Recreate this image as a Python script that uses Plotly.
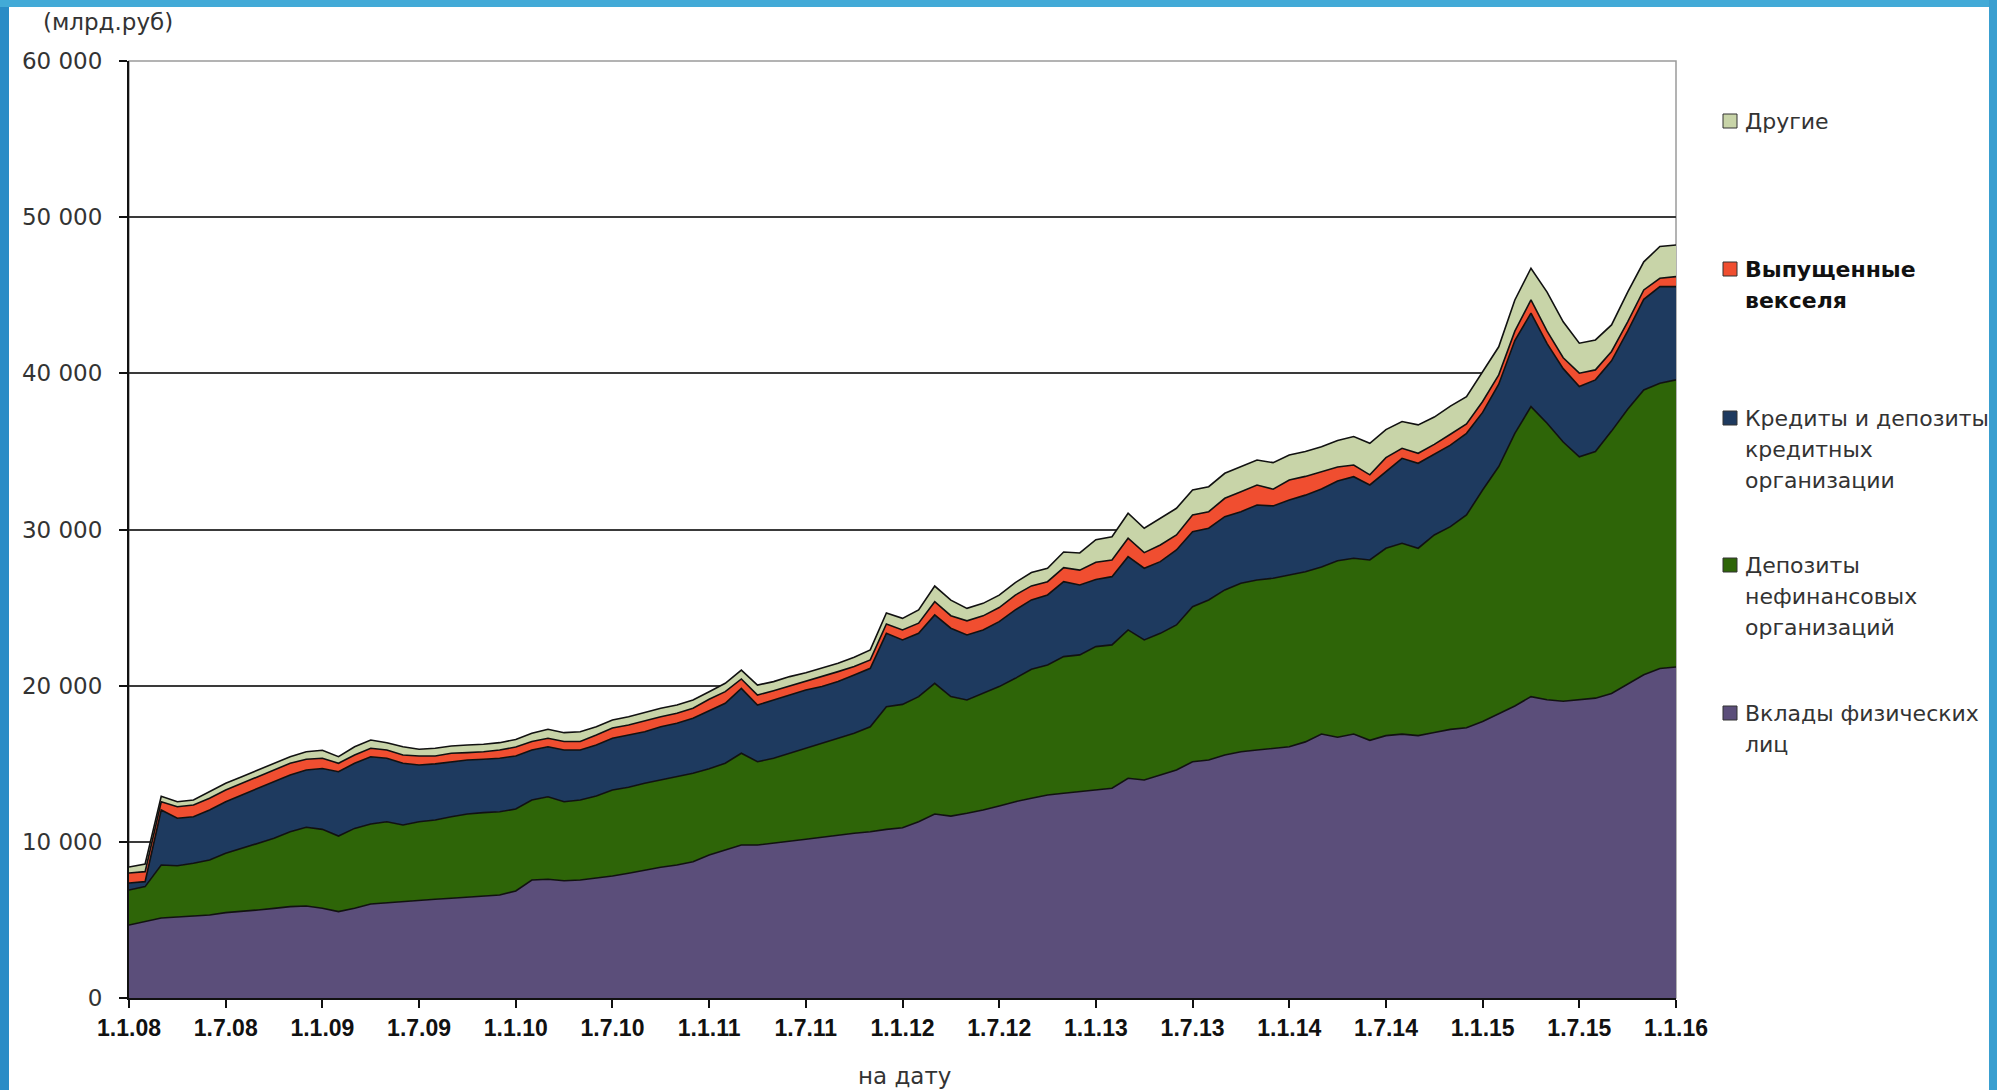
import plotly.graph_objects as go

# ---------------- data (млрд.руб), monthly 1.1.08 .. 1.1.16 ----------------
years = ["08", "09", "10", "11", "12", "13", "14", "15"]
months = [f"1.{m}.{y}" for y in years for m in range(1, 13)] + ["1.1.16"]

tick_labels = ["1.1.08", "1.7.08", "1.1.09", "1.7.09", "1.1.10", "1.7.10", "1.1.11", "1.7.11",
               "1.1.12", "1.7.12", "1.1.13", "1.7.13", "1.1.14", "1.7.14", "1.1.15", "1.7.15", "1.1.16"]

vklady = [4675, 4886, 5120, 5187, 5250, 5315, 5464, 5528, 5635, 5742, 5850, 5890,
          5750, 5530, 5742, 6020, 6100, 6170, 6276, 6320, 6384, 6450, 6530, 6600,
          6850, 7557, 7600, 7510, 7557, 7665, 7813, 7985, 8197, 8370, 8517, 8730,
          9150, 9478, 9798, 9798, 9905, 10010, 10160, 10290, 10440, 10550, 10650, 10800,
          10900, 11290, 11780, 11650, 11830, 12040, 12300, 12570, 12790, 13000, 13110, 13210,
          13300, 13430, 14070, 13960, 14280, 14600, 15130, 15240, 15560, 15770, 15880, 15990,
          16090, 16400, 16900, 16700, 16900, 16500, 16800, 16900, 16800, 17000, 17200, 17300,
          17700, 18200, 18700, 19300, 19100, 19000, 19100, 19200, 19500, 20100, 20700, 21100,
          21200]

depozity_nefin = [2241, 2244, 3400, 3286, 3375, 3522, 3800, 4057, 4270, 4483, 4800, 5040,
                  5050, 4840, 5118, 5120, 5190, 4910, 5014, 5080, 5226, 5330, 5340, 5330,
                  5250, 5123, 5290, 5060, 5123, 5275, 5507, 5505, 5553, 5590, 5653, 5660,
                  5530, 5552, 5872, 5332, 5445, 5660, 5830, 6020, 6190, 6400, 6720, 7850,
                  7900, 8010, 8370, 7650, 7250, 7470, 7640, 7900, 8260, 8330, 8750, 8760,
                  9200, 9180, 9500, 8970, 9070, 9290, 9930, 10250, 10570, 10790, 10890, 10890,
                  11000, 10900, 10700, 11300, 11260, 11550, 12000, 12220, 12000, 12650, 12980, 13630,
                  14830, 15830, 17460, 18570, 17700, 16600, 15560, 15790, 16800, 17600, 18240, 18260,
                  18380]

kredity_ko = [449, 320, 3520, 3035, 2985, 3203, 3306, 3415, 3525, 3625, 3630, 3670,
              3900, 4120, 4170, 4310, 4060, 3950, 3630, 3590, 3520, 3460, 3420, 3420,
              3400, 3200, 3200, 3310, 3200, 3260, 3310, 3350, 3300, 3410, 3420, 3520,
              3710, 3840, 4160, 3630, 3730, 3730, 3730, 3630, 3630, 3730, 3740, 4700,
              4130, 4050, 4380, 4380, 4170, 4060, 4160, 4380, 4440, 4480, 4800, 4480,
              4300, 4370, 4690, 4590, 4590, 4800, 4800, 4590, 4690, 4580, 4800, 4630,
              4800, 4900, 5000, 5100, 5220, 4800, 4900, 5440, 5440, 5150, 5220, 5230,
              4970, 5270, 5940, 5980, 5100, 4700, 4490, 4590, 4500, 5000, 5800, 6200,
              5970]

vekselya = [640, 640, 530, 742, 750, 750, 750, 750, 740, 750, 750, 690,
            650, 540, 530, 540, 530, 530, 580, 510, 540, 470, 480, 530,
            570, 540, 540, 540, 540, 640, 660, 640, 710, 640, 640, 640,
            740, 750, 600, 640, 600, 580, 540, 640, 640, 540, 540, 600,
            640, 650, 850, 800, 900, 900, 900, 950, 900, 850, 900, 950,
            1100, 1070, 1180, 1000, 1070, 960, 1070, 1060, 1180, 1280, 1280, 1070,
            1280, 1200, 1100, 900, 750, 650, 900, 640, 640, 650, 700, 600,
            700, 600, 600, 850, 800, 700, 860, 640, 600, 600, 600, 530,
            640]

drugie = [385, 490, 350, 320, 320, 420, 430, 420, 430, 430, 420, 480,
          510, 420, 530, 530, 470, 530, 430, 490, 470, 490, 480, 470,
          480, 530, 580, 570, 630, 530, 510, 530, 510, 540, 530, 530,
          480, 530, 570, 640, 580, 600, 570, 530, 530, 600, 640, 700,
          740, 850, 1000, 1000, 800, 800, 800, 800, 850, 850, 1000, 1100,
          1450, 1490, 1600, 1560, 1710, 1710, 1600, 1600, 1600, 1610, 1600, 1700,
          1600, 1600, 1600, 1700, 1820, 2020, 1800, 1710, 1820, 1750, 1800, 1750,
          1900, 1800, 2000, 2030, 2500, 2300, 1920, 1920, 1700, 1900, 1800, 2030,
          2030]

y_ticks = [0, 10000, 20000, 30000, 40000, 50000, 60000]
y_tick_text = ["0", "10 000", "20 000", "30 000", "40 000", "50 000", "60 000"]

series = [
    ("Вклады физических лиц", vklady, "#5B4E7A"),
    ("Депозиты нефинансовых организаций", depozity_nefin, "#2E6508"),
    ("Кредиты и депозиты кредитных организации", kredity_ko, "#1E3A5F"),
    ("Выпущенные векселя", vekselya, "#F04E30"),
    ("Другие", drugie, "#C8D4A8"),
]

# ---------------- geometry helpers ----------------
W, H = 1997, 1090
L, R, T, B = 129, 1676, 61, 998


def px(x):
    return (x - L) / (R - L)


def py(y):
    return (B - y) / (B - T)


fig = go.Figure()
for name, vals, col in series:
    fig.add_trace(go.Scatter(
        x=months, y=vals, name=name, stackgroup="one", mode="lines",
        line=dict(color="#111111", width=1.6), fillcolor=col, showlegend=False,
    ))

font_main = "DejaVu Sans, Verdana, sans-serif"

annotations = [
    dict(text="(млрд.руб)", x=px(108), y=py(22), xref="paper", yref="paper",
         showarrow=False, xanchor="center", yanchor="middle",
         font=dict(family=font_main, size=23, color="#333333")),
    dict(text="на дату", x=px(904), y=py(1076), xref="paper", yref="paper",
         showarrow=False, xanchor="center", yanchor="middle",
         font=dict(family=font_main, size=23, color="#333333")),
]

legend_items = [
    (["Другие"], "#C8D4A8", 121, False),
    (["Выпущенные", "векселя"], "#F04E30", 269, True),
    (["Кредиты и депозиты", "кредитных", "организации"], "#1E3A5F", 418, False),
    (["Депозиты", "нефинансовых", "организаций"], "#2E6508", 565, False),
    (["Вклады физических", "лиц"], "#5B4E7A", 713, False),
]

shapes = []
line_gap = 31
for lines, col, y0, bold in legend_items:
    shapes.append(dict(type="rect", xref="paper", yref="paper",
                       x0=px(1723), x1=px(1737), y0=py(y0 + 7), y1=py(y0 - 7),
                       fillcolor=col, line=dict(color="#333333", width=1)))
    for i, t in enumerate(lines):
        annotations.append(dict(
            text=f"<b>{t}</b>" if bold else t,
            x=px(1743), y=py(y0 + i * line_gap), xref="paper", yref="paper",
            showarrow=False, xanchor="left", yanchor="middle",
            font=dict(family=font_main, size=22, color="#111111" if bold else "#333333")))

# plot-area border (top / right gray)
shapes.append(dict(type="rect", xref="paper", yref="paper", x0=0, x1=1, y0=0, y1=1,
                   line=dict(color="#9a9a9a", width=1.5), layer="below"))

# slide's blue frame
shapes += [
    dict(type="rect", xref="paper", yref="paper", x0=px(0), x1=px(9), y0=py(H), y1=py(0),
         fillcolor="#2A8CC6", line=dict(width=0), layer="above"),
    dict(type="rect", xref="paper", yref="paper", x0=px(0), x1=px(W), y0=py(7), y1=py(0),
         fillcolor="#42AAD7", line=dict(width=0), layer="above"),
    dict(type="rect", xref="paper", yref="paper", x0=px(1989), x1=px(W), y0=py(H), y1=py(0),
         fillcolor="#3A9FD0", line=dict(width=0), layer="above"),
]

fig.update_layout(
    width=W, height=H, autosize=False,
    margin=dict(l=L, r=W - R, t=T, b=H - B, pad=0),
    plot_bgcolor="white", paper_bgcolor="white",
    showlegend=False,
    annotations=annotations, shapes=shapes,
    xaxis=dict(
        type="category", categoryorder="array", categoryarray=months,
        range=[0, len(months) - 1],
        tickmode="array", tickvals=tick_labels, ticktext=tick_labels,
        ticks="outside", ticklen=8, tickwidth=1.5, tickcolor="#111111",
        showline=True, linecolor="#111111", linewidth=2, showgrid=False,
        tickfont=dict(family="Liberation Sans Narrow, Arial Narrow, Liberation Sans, sans-serif",
                      size=23, color="#111111", weight="bold"),
    ),
    yaxis=dict(
        range=[0, 60000], tickmode="array", tickvals=y_ticks, ticktext=y_tick_text,
        ticks="outside", ticklen=8, tickwidth=1.5, tickcolor="#111111",
        showline=True, linecolor="#111111", linewidth=2,
        showgrid=True, gridcolor="#3a3a3a", gridwidth=1.5, zeroline=False,
        ticklabelstandoff=12,
        tickfont=dict(family=font_main, size=23, color="#333333"),
    ),
)

fig.write_html("out.html",
               config={"displayModeBar": False},
               post_script="document.body.style.margin='0';document.body.style.overflow='hidden';")
